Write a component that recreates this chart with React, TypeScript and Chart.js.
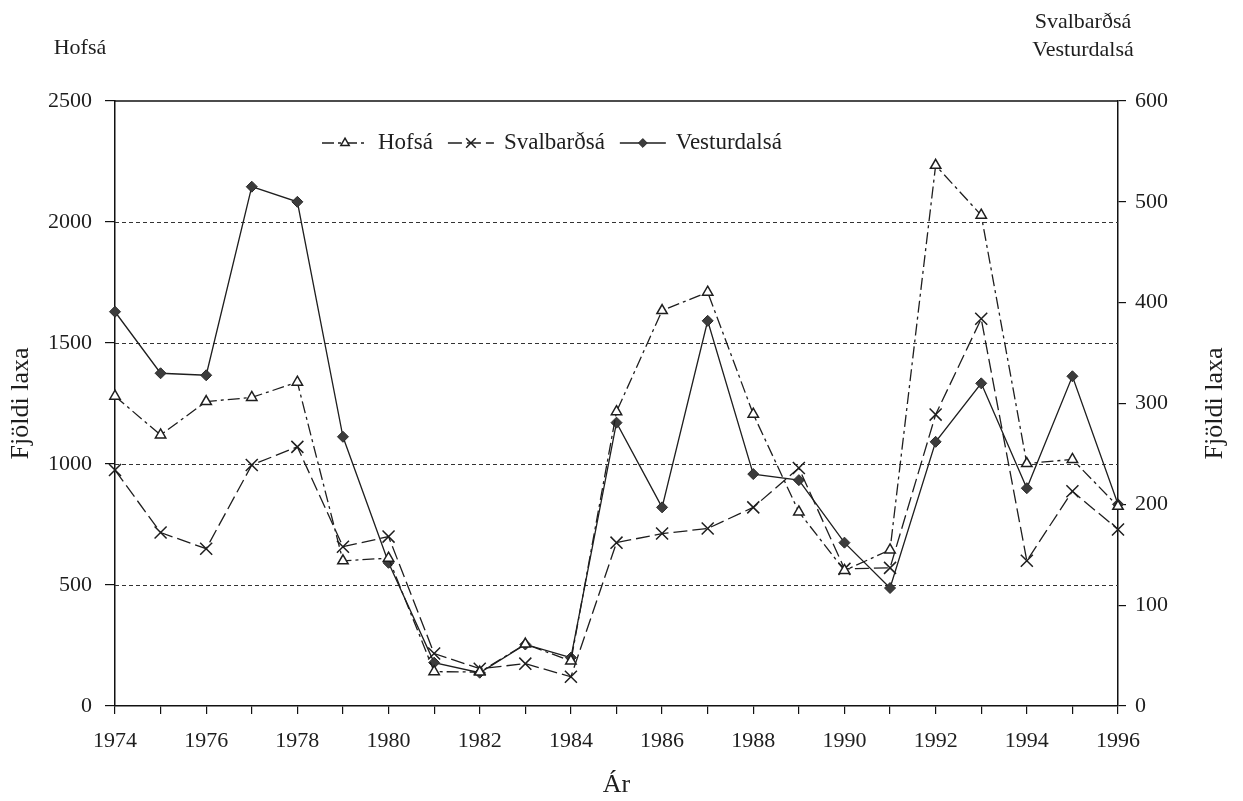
import React, { useEffect, useRef } from 'react';
import { Chart, registerables } from 'chart.js';
import { drawPoint } from 'chart.js/helpers';

Chart.register(...registerables);

// ---- data ----
const years = [1974, 1975, 1976, 1977, 1978, 1979, 1980, 1981, 1982, 1983, 1984, 1985,
  1986, 1987, 1988, 1989, 1990, 1991, 1992, 1993, 1994, 1995, 1996];
// Hofsá (left axis)
const hofsa = [1280, 1120, 1258, 1275, 1338, 600, 611, 142, 140, 256, 186, 1216,
  1634, 1710, 1206, 802, 560, 645, 2234, 2028, 1002, 1019, 825];
// Svalbarðsá (right axis)
const svalbardsa = [234, 172, 156, 239, 257, 158, 168, 52, 37, 42, 29, 162,
  171, 176, 197, 236, 136, 137, 289, 384, 144, 213, 175];
// Vesturdalsá (right axis)
const vesturdalsa = [391, 330, 328, 515, 500, 267, 142, 43, 33, 61, 48, 281,
  197, 382, 230, 224, 162, 117, 262, 320, 216, 327, 200];

const seriesNames = ['Hofsá', 'Svalbarðsá', 'Vesturdalsá'];
const leftAxisRange = [0, 2500];
const leftAxisStep = 500;
const rightAxisRange = [0, 600];
const rightAxisStep = 100;
const gridValues = [500, 1000, 1500, 2000];
const leftCornerLabel = 'Hofsá';
const rightCornerLabels = ['Svalbarðsá', 'Vesturdalsá'];
const yTitle = 'Fjöldi laxa';
const xTitle = 'Ár';

const FONT = '"Liberation Serif", "Times New Roman", serif';
const INK = '#1e1e1e';

const toPoints = (vals: number[]) => years.map((yr, i) => ({ x: yr, y: vals[i] }));

const decorPlugin = {
  id: 'decor',
  beforeDatasetsDraw(chart: any) {
    const { ctx, chartArea } = chart;
    const yl = chart.scales.y;
    ctx.save();
    ctx.strokeStyle = '#333';
    ctx.lineWidth = 1;
    ctx.setLineDash([4, 3]);
    gridValues.forEach((v) => {
      const py = Math.round(yl.getPixelForValue(v)) + 0.5;
      ctx.beginPath();
      ctx.moveTo(chartArea.left, py);
      ctx.lineTo(chartArea.right, py);
      ctx.stroke();
    });
    ctx.setLineDash([]);
    ctx.strokeStyle = '#111';
    ctx.lineWidth = 1.5;
    ctx.beginPath();
    ctx.moveTo(chartArea.left, chartArea.top);
    ctx.lineTo(chartArea.right, chartArea.top);
    ctx.stroke();
    ctx.restore();
  },
  afterDraw(chart: any) {
    const { ctx, chartArea } = chart;
    ctx.save();
    ctx.fillStyle = INK;
    ctx.font = `22px ${FONT}`;
    ctx.textAlign = 'center';
    ctx.textBaseline = 'middle';
    ctx.fillText(leftCornerLabel, 80, 48);
    ctx.fillText(rightCornerLabels[0], 1083, 22);
    ctx.fillText(rightCornerLabels[1], 1083, 50);
    ctx.save();
    ctx.font = `26px ${FONT}`;
    ctx.translate(chart.width - 28, (chartArea.top + chartArea.bottom) / 2);
    ctx.rotate(-Math.PI / 2);
    ctx.fillText(yTitle, 0, 0);
    ctx.restore();

    ctx.font = `23px ${FONT}`;
    ctx.textAlign = 'left';
    ctx.textBaseline = 'middle';
    let x = chartArea.left + 207;
    const y = chartArea.top + 42;
    chart.data.datasets.forEach((ds: any) => {
      const lineLen = 46;
      ctx.strokeStyle = ds.borderColor;
      ctx.lineWidth = ds.borderWidth;
      ctx.setLineDash(ds.borderDash || []);
      ctx.beginPath();
      ctx.moveTo(x, y);
      ctx.lineTo(x + lineLen, y);
      ctx.stroke();
      ctx.setLineDash([]);
      ctx.fillStyle = ds.pointBackgroundColor;
      ctx.strokeStyle = ds.pointBorderColor;
      ctx.lineWidth = ds.pointBorderWidth;
      drawPoint(ctx, {
        pointStyle: ds.pointStyle,
        radius: ds.pointRadius * 0.8,
        rotation: 0,
        borderWidth: ds.pointBorderWidth,
      }, x + lineLen / 2, y);
      ctx.fillStyle = INK;
      const tx = x + lineLen + 10;
      ctx.fillText(ds.label, tx, y);
      x = tx + ctx.measureText(ds.label).width + 15;
    });
    ctx.restore();
  },
};

export default function App() {
  const canvasRef = useRef<HTMLCanvasElement | null>(null);

  useEffect(() => {
    const canvas = canvasRef.current;
    if (!canvas) return;
    const chart = new Chart(canvas, {
      type: 'line',
      data: {
        datasets: [
          {
            label: seriesNames[0],
            data: toPoints(hofsa),
            yAxisID: 'y',
            borderColor: INK,
            borderWidth: 1.3,
            borderDash: [12, 4, 3, 4],
            pointStyle: 'triangle',
            pointRadius: 6,
            pointBackgroundColor: '#ffffff',
            pointBorderColor: INK,
            pointBorderWidth: 1.5,
            tension: 0,
            clip: false,
          },
          {
            label: seriesNames[1],
            data: toPoints(svalbardsa),
            yAxisID: 'y1',
            borderColor: INK,
            borderWidth: 1.3,
            borderDash: [14, 5],
            pointStyle: 'crossRot',
            pointRadius: 8.5,
            pointBackgroundColor: INK,
            pointBorderColor: INK,
            pointBorderWidth: 1.5,
            tension: 0,
            clip: false,
          },
          {
            label: seriesNames[2],
            data: toPoints(vesturdalsa),
            yAxisID: 'y1',
            borderColor: INK,
            borderWidth: 1.3,
            borderDash: [],
            pointStyle: 'rectRot',
            pointRadius: 5.5,
            pointBackgroundColor: '#3c3c3c',
            pointBorderColor: '#2a2a2a',
            pointBorderWidth: 1,
            tension: 0,
            clip: false,
          },
        ],
      },
      options: {
        animation: false,
        responsive: true,
        maintainAspectRatio: false,
        layout: { padding: { top: 101, left: 0, right: 0, bottom: 0 } },
        plugins: {
          legend: { display: false },
          tooltip: { enabled: false },
          title: { display: false },
        },
        scales: {
          x: {
            type: 'linear',
            position: 'bottom',
            min: years[0],
            max: years[years.length - 1],
            afterFit: (s: any) => { s.height = 95; },
            ticks: {
              stepSize: 1,
              autoSkip: false,
              maxRotation: 0,
              padding: 14,
              color: INK,
              font: { family: FONT, size: 22 },
              callback: (v: any) => (Number(v) % 2 === 0 ? String(v) : ''),
            },
            grid: { drawOnChartArea: false, tickLength: 8, color: '#111', lineWidth: 1.2 },
            border: { color: '#111', width: 1.5 },
            title: {
              display: true,
              text: xTitle,
              color: INK,
              font: { family: FONT, size: 26 },
              padding: { top: 0, bottom: 0 },
            },
          },
          y: {
            type: 'linear',
            position: 'left',
            min: leftAxisRange[0],
            max: leftAxisRange[1],
            afterFit: (s: any) => { s.width = 115; },
            ticks: {
              stepSize: leftAxisStep,
              padding: 13,
              color: INK,
              font: { family: FONT, size: 22 },
              callback: (v: any) => String(v),
            },
            grid: { drawOnChartArea: false, tickLength: 10, color: '#111', lineWidth: 1.2 },
            border: { color: '#111', width: 1.5 },
            title: {
              display: true,
              text: yTitle,
              color: INK,
              font: { family: FONT, size: 26 },
              padding: { top: 6, bottom: 0 },
            },
          },
          y1: {
            type: 'linear',
            position: 'right',
            min: rightAxisRange[0],
            max: rightAxisRange[1],
            afterFit: (s: any) => { s.width = 125; },
            ticks: {
              stepSize: rightAxisStep,
              padding: 9,
              color: INK,
              font: { family: FONT, size: 22 },
              callback: (v: any) => String(v),
            },
            grid: { drawOnChartArea: false, tickLength: 8, color: '#111', lineWidth: 1.2 },
            border: { color: '#111', width: 1.5 },
          },
        },
      },
      plugins: [decorPlugin],
    } as any);
    return () => chart.destroy();
  }, []);

  return (
    <div style={{ position: 'fixed', left: 0, top: 0, width: 1243, height: 801, background: '#fff' }}>
      <canvas ref={canvasRef} />
    </div>
  );
}
